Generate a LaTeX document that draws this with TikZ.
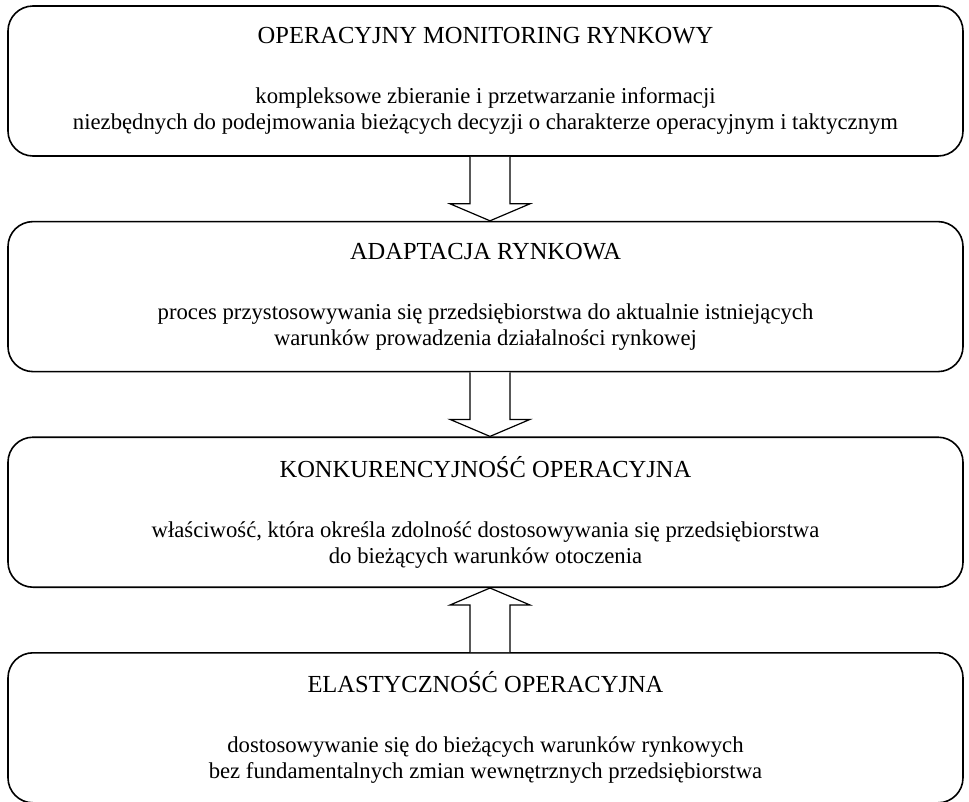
\documentclass[tikz,border=0pt]{standalone}
\usepackage{fontspec}
\setmainfont{Liberation Serif}
\usetikzlibrary{positioning,calc}

% hollow block arrow: #1 start anchor, #2 tip anchor (sits a bit right of centre)
\newcommand{\blockarrow}[2]{%
  \draw[arrowline] ($(#1)+(-15.5pt,0)$) -- ($(#2)!17pt!(#1)+(-15.5pt,0)$)
    -- ($(#2)!17pt!(#1)+(-35.5pt,0)$) -- ($(#2)+(4.5pt,0)$)
    -- ($(#2)!17pt!(#1)+(44.5pt,0)$) -- ($(#2)!17pt!(#1)+(24.5pt,0)$)
    -- ($(#1)+(24.5pt,0)$);
}
\newcommand{\stagetitle}[1]{{\fontsize{24.5}{26}\selectfont #1}}

\begin{document}
\begin{tikzpicture}[
    node distance=64pt,
    font=\fontsize{22.7}{26}\selectfont,
    stage/.style={
		rectangle,
		rounded corners=25pt,
		draw=black,
		line width=1.6pt,
		align=center,
		minimum width=955pt,
		minimum height=150pt,
		fill=white
	},
	arrowline/.style={
		line width=1.2pt,
		line join=miter,
		fill=white
	}
  ]
  \useasboundingbox (0,0) rectangle (969pt,-801pt);

    % We start by placing the blocks
  \node [stage] (monit) at (485.5pt,-81pt)
 {\stagetitle{OPERACYJNY MONITORING RYNKOWY}\\[34pt]
  kompleksowe zbieranie i przetwarzanie informacji\\
  niezbędnych do podejmowania bieżących decyzji o charakterze operacyjnym i taktycznym};

  \node [stage, below=of monit] (adapt)
 {\stagetitle{ADAPTACJA RYNKOWA}\\[34pt]
  proces przystosowywania się przedsiębiorstwa do aktualnie istniejących\\
  warunków prowadzenia działalności rynkowej};

  \node [stage, below=of adapt] (konk)
 {\stagetitle{KONKURENCYJNOŚĆ OPERACYJNA}\\[34pt]
  właściwość, która określa zdolność dostosowywania się przedsiębiorstwa\\
  do bieżących warunków otoczenia};

  \node [stage, below=of konk] (elast)
 {\stagetitle{ELASTYCZNOŚĆ OPERACYJNA}\\[34pt]
  dostosowywanie się do bieżących warunków rynkowych\\
  bez fundamentalnych zmian wewnętrznych przedsiębiorstwa};

 \blockarrow{monit.south}{adapt.north}
 \blockarrow{adapt.south}{konk.north}
 \blockarrow{elast.north}{konk.south}

\end{tikzpicture}
\end{document}
